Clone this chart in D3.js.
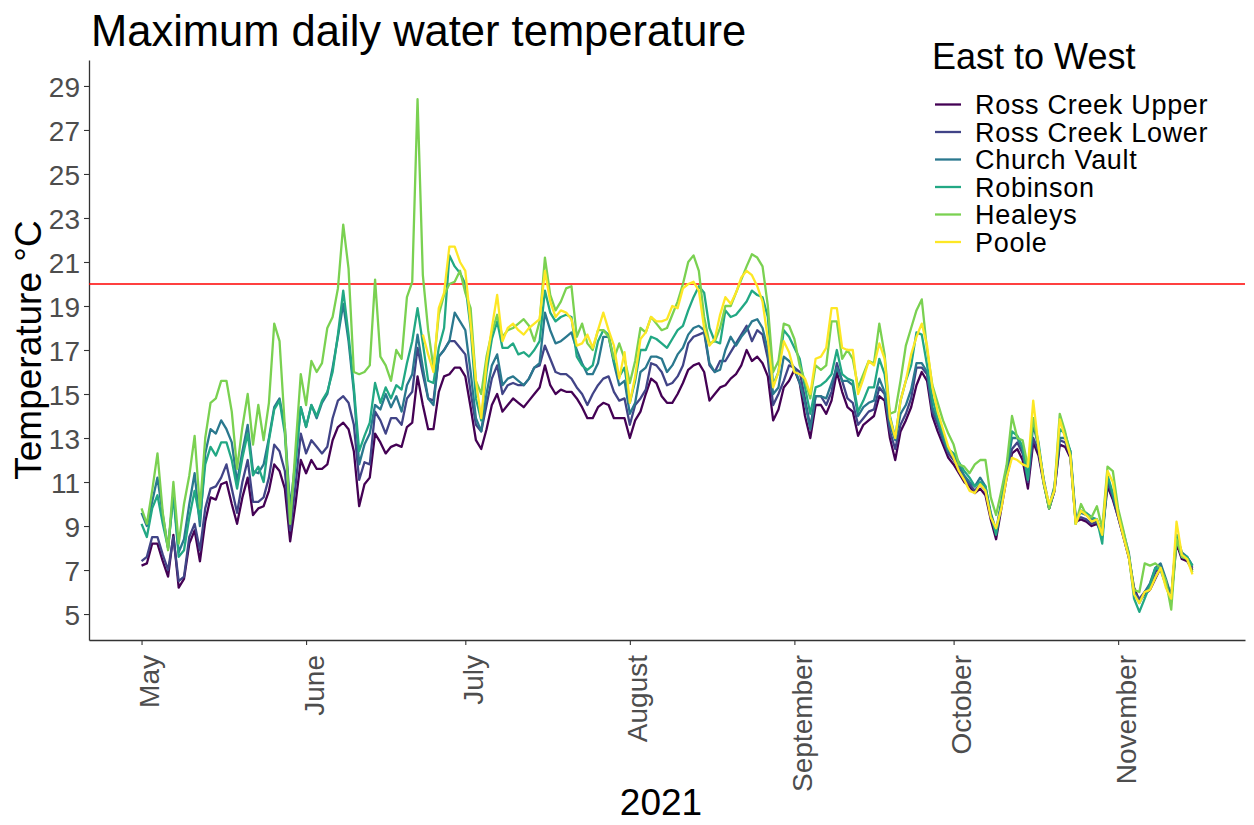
<!DOCTYPE html>
<html>
<head>
<meta charset="utf-8">
<script src="https://cdn.jsdelivr.net/npm/d3@7"></script>
<style>
  body { margin: 0; background: #fff; }
  svg { font-family: "Liberation Sans", Arial, sans-serif; }
</style>
</head>
<body>
<script>
// daily maximum water temperature (°C), one value per day from firstDay
var firstDay = "2021-05-01";
var pooleFirstDay = "2021-06-23";
var siteNames = ["Ross Creek Upper", "Ross Creek Lower", "Church Vault", "Robinson", "Healeys", "Poole"];

var rossCreekUpper = [7.2,7.3,8.2,8.2,7.4,6.7,8.6,6.2,6.6,8.2,
 8.8,7.4,9.2,10.3,10.2,10.9,11.0,10.0,9.1,10.3,
 11.2,9.5,9.8,9.9,10.6,11.8,11.5,10.7,8.3,10.0,
 12.0,11.4,12.0,11.6,11.6,11.8,12.9,13.5,13.7,13.4,
 12.4,9.9,10.9,11.2,13.2,12.8,12.3,12.6,12.7,12.6,
 13.5,13.7,15.8,14.5,13.4,13.4,15.1,15.8,15.9,16.2,
 16.2,15.8,14.4,12.9,12.5,13.4,14.5,15.0,14.2,14.5,
 14.8,14.6,14.4,14.7,15.0,15.3,16.3,15.4,15.0,15.2,
 15.1,15.1,14.8,14.4,13.9,13.9,14.4,14.6,14.5,13.9,
 13.9,13.9,13.0,13.8,14.2,15.0,15.7,15.5,14.9,14.6,
 14.6,15.0,15.5,16.1,16.3,16.4,16.0,14.7,15.0,15.3,
 15.4,15.7,15.9,16.3,17.0,16.5,16.7,16.4,15.8,13.8,
 14.3,15.3,15.6,16.1,15.5,14.0,13.0,14.5,14.5,14.1,
 14.7,16.0,15.1,14.4,14.2,13.1,13.6,13.8,14.0,14.9,
 14.7,13.0,12.0,13.3,13.8,14.4,15.4,16.0,15.6,14.0,
 13.3,12.7,12.1,11.8,11.4,11.0,10.8,10.5,10.7,10.4,
 9.3,8.4,9.8,11.2,12.3,12.5,12.0,10.7,12.8,12.2,
 10.9,9.8,10.6,12.7,12.6,12.1,9.2,9.3,9.2,9.0,
 9.1,8.6,10.8,10.2,9.4,8.5,7.6,6.2,5.6,5.9,
 6.1,6.6,7.1,6.4,5.7,8.2,7.5,7.4,7.0];

var rossCreekLower = [7.4,7.6,8.5,8.5,7.7,7.0,8.5,6.5,6.7,8.5,
 9.1,7.9,9.8,10.7,10.8,11.2,11.8,10.7,9.6,11.0,
 12.0,10.1,10.1,10.3,11.2,12.7,12.4,11.5,8.8,10.8,
 13.2,12.3,12.9,12.6,12.3,12.6,13.9,14.7,14.9,14.6,
 13.6,11.1,11.9,11.8,14.2,13.8,13.2,13.9,13.9,13.6,
 14.8,15.1,17.1,15.9,14.8,14.7,16.7,17.0,17.4,17.4,
 17.1,16.8,15.1,13.6,13.3,14.5,15.7,16.3,15.0,15.4,
 15.5,15.4,15.4,15.7,16.2,16.3,17.2,16.6,16.0,15.9,
 15.9,15.7,15.3,15.0,14.5,15.0,15.4,15.7,15.8,15.1,
 14.7,14.8,13.6,14.5,14.8,15.2,16.4,16.3,16.0,15.4,
 15.5,15.8,16.3,17.3,17.6,17.7,17.8,16.3,16.0,16.5,
 16.5,16.9,17.3,17.7,18.1,17.4,17.9,17.7,16.6,14.5,
 15.0,15.6,16.3,16.2,16.0,14.8,13.5,14.9,14.9,14.5,
 15.1,16.4,15.6,14.8,14.6,13.6,13.9,14.2,14.3,15.3,
 15.0,13.3,12.5,13.6,14.1,14.8,16.2,16.2,15.9,14.2,
 13.6,12.9,12.3,12.0,11.6,11.2,10.9,10.6,10.9,10.6,
 9.5,8.7,10.0,11.4,12.5,12.8,12.3,11.0,13.0,12.4,
 11.0,9.8,10.6,12.9,12.8,12.2,9.3,9.4,9.3,9.1,
 9.2,8.8,11.0,10.3,9.4,8.5,7.6,6.0,5.7,6.0,
 6.3,6.9,7.2,6.5,5.8,8.4,7.6,7.5,7.1];

var churchVault = [9.6,9.0,10.1,11.2,9.5,8.0,10.5,7.8,8.4,10.0,
 11.4,9.0,12.3,13.4,13.2,13.8,13.4,12.8,11.0,12.4,
 13.6,11.5,11.4,11.8,13.0,14.4,14.8,13.5,9.8,12.0,
 14.4,13.5,14.5,13.9,14.6,15.0,16.2,17.6,19.1,17.4,
 15.1,11.8,12.7,13.2,14.5,14.3,15.0,14.4,14.9,14.2,
 15.4,15.9,17.7,16.2,14.8,14.5,16.7,17.0,17.4,18.7,
 18.3,17.9,16.0,13.9,13.3,15.0,16.3,16.8,15.4,15.7,
 15.8,15.6,15.4,15.7,16.2,16.4,18.7,17.9,17.3,17.4,
 17.6,17.8,17.0,16.4,15.9,15.9,16.4,17.6,17.6,16.4,
 15.4,15.6,14.1,14.6,16.0,16.2,16.7,16.7,16.6,16.0,
 16.3,16.8,17.1,17.7,18.0,18.1,17.9,16.4,16.0,16.1,
 17.0,17.6,17.2,17.6,17.9,18.3,18.4,18.0,17.0,15.0,
 15.3,16.7,16.5,16.2,15.5,14.6,13.4,14.9,14.9,14.8,
 15.5,16.2,15.6,15.6,15.4,14.0,14.4,14.6,14.7,15.7,
 15.1,13.6,12.9,14.1,14.5,15.2,16.4,16.4,16.0,14.4,
 13.8,13.0,12.4,12.2,11.8,11.3,11.0,10.8,11.2,10.8,
 9.6,8.8,10.1,11.6,13.0,13.0,12.5,11.2,13.6,12.6,
 11.1,9.9,10.8,13.0,13.0,12.4,9.4,9.6,9.5,9.3,
 9.3,8.6,11.2,10.4,9.6,8.7,7.8,6.0,5.5,6.0,
 6.4,7.1,7.3,6.6,5.8,8.6,7.8,7.6,7.2];

var robinson = [9.1,8.5,9.8,10.4,9.1,8.0,10.4,7.6,7.9,9.4,
 10.6,9.3,11.8,12.6,12.2,12.8,12.8,12.0,10.7,12.1,
 13.2,11.3,11.7,11.0,12.9,14.3,14.7,13.2,9.4,11.8,
 14.4,13.5,14.5,14.0,14.7,15.1,16.0,17.7,19.7,17.7,
 15.3,12.4,13.1,13.7,15.5,14.6,15.3,14.8,15.4,15.2,
 16.4,17.4,18.9,17.3,15.6,15.5,17.1,18.0,21.3,20.8,
 20.5,20.0,18.0,14.8,13.8,16.0,17.5,18.3,17.1,17.1,
 17.3,16.8,16.9,16.7,17.0,17.4,19.7,18.7,18.3,18.5,
 18.6,18.5,16.7,16.3,16.1,16.3,17.4,17.9,17.7,16.5,
 15.8,16.2,14.6,15.6,17.0,17.0,17.6,17.5,17.3,17.1,
 17.5,17.9,18.1,18.8,19.4,19.9,19.6,18.0,17.4,17.3,
 18.8,18.5,18.6,18.9,19.2,19.7,19.5,19.4,18.5,15.4,
 16.0,17.9,17.6,17.1,16.6,15.3,14.1,15.3,15.4,15.6,
 15.9,17.0,15.9,15.7,15.6,14.2,14.7,15.3,15.3,16.6,
 15.9,14.0,13.0,14.7,15.6,16.3,17.8,17.7,16.3,14.8,
 13.9,13.2,12.5,12.3,11.9,11.5,11.2,10.8,11.0,10.8,
 9.5,8.6,10.0,11.7,13.3,13.1,12.6,11.1,13.9,12.8,
 11.0,9.8,10.7,13.4,13.2,12.4,9.1,9.7,9.6,9.4,
 9.3,8.2,11.3,10.5,9.6,8.6,7.7,5.7,5.1,5.7,
 6.3,7.1,7.0,6.3,5.6,8.6,7.7,7.6,7.2];

var healeys = [9.8,9.1,10.6,12.3,9.6,7.9,11.0,8.2,10.0,11.3,
 13.1,9.8,13.0,14.6,14.8,15.6,15.6,14.2,11.6,13.5,
 15.0,12.7,14.5,12.9,14.6,18.2,17.4,13.5,9.1,12.5,
 15.9,14.5,16.5,16.0,16.4,18.0,18.5,19.8,22.7,20.7,
 16.0,15.9,16.0,16.3,20.2,16.7,16.3,15.6,17.0,16.6,
 19.4,20.1,28.4,20.4,17.9,16.2,18.6,19.5,20.0,20.1,
 20.6,19.6,18.9,15.6,15.0,16.7,17.8,18.6,17.6,17.9,
 18.0,18.2,18.4,18.1,17.4,18.3,21.2,19.5,18.8,19.2,
 19.8,19.9,17.6,18.2,17.3,17.0,17.9,17.9,17.6,16.6,
 17.3,16.6,15.5,16.5,18.0,17.8,18.5,18.2,17.9,18.0,
 18.6,19.2,20.0,21.0,21.3,20.6,18.5,17.3,17.4,18.0,
 19.0,19.0,19.6,20.2,20.8,21.35,21.2,20.8,19.0,16.0,
 16.5,18.2,18.1,17.5,16.3,15.6,14.8,16.3,16.1,16.3,
 18.3,18.3,16.6,17.0,16.6,15.3,15.9,16.5,16.4,18.2,
 16.8,14.1,14.2,15.6,17.2,18.0,18.8,19.3,17.0,15.4,
 14.6,13.8,13.2,12.7,11.8,11.7,11.4,11.8,12.0,12.0,
 10.3,9.5,10.6,11.8,14.0,13.0,12.9,11.7,13.9,12.6,
 10.9,9.8,10.7,14.1,13.3,12.2,9.1,10.0,9.5,9.4,
 9.9,8.9,11.7,11.5,9.8,8.8,7.7,6.1,6.0,7.3,
 7.2,7.3,7.1,6.5,5.2,8.4,7.6,7.5,6.9];

// Poole logger starts later (pooleFirstDay)
var poole = [17.7,16.8,16.0,18.9,19.6,21.7,21.7,
 21.0,20.6,18.2,15.6,13.9,16.4,18.0,19.5,17.4,18.0,
 18.2,17.9,17.7,18.0,18.2,18.4,20.6,19.2,18.5,18.8,
 18.7,18.4,17.2,17.3,17.7,17.1,17.9,18.7,17.9,17.2,
 15.7,16.9,14.6,15.8,17.5,17.8,18.5,18.3,18.3,18.4,
 19.0,18.9,19.8,20.0,20.1,19.7,18.0,17.2,17.5,18.6,
 19.4,19.1,19.6,20.3,20.6,20.4,19.9,19.2,17.5,15.3,
 16.0,17.4,16.9,16.0,15.9,15.7,15.0,16.6,16.7,17.1,
 18.9,18.9,17.1,17.0,17.0,15.0,15.7,16.5,16.3,17.3,
 16.6,13.9,13.0,14.7,15.6,16.8,17.6,18.2,17.2,15.3,
 14.2,13.4,12.6,12.1,11.5,11.1,10.6,10.5,10.9,10.6,
 9.4,8.9,9.8,11.2,12.1,12.0,11.8,11.7,14.7,12.6,
 11.0,10.0,10.6,13.85,13.0,12.2,9.1,9.7,9.5,9.2,
 9.3,8.6,11.5,11.0,9.5,8.5,7.6,5.9,5.5,6.0,
 6.1,6.65,7.1,6.2,5.7,9.2,7.7,7.5,6.8];

var threshold = 20;
var yTicks = [5, 7, 9, 11, 13, 15, 17, 19, 21, 23, 25, 27, 29];
var monthTicks = ["2021-05-01", "2021-06-01", "2021-07-01", "2021-08-01", "2021-09-01", "2021-10-01", "2021-11-01"];

var colors = ["#440154", "#414487", "#2A788E", "#22A884", "#7AD151", "#FDE725"];

var w = 1254, h = 825;
var margin = {left: 89, right: 9, top: 60, bottom: 185};

var svg = d3.select('body')
  .append('svg')
  .attr('width', w)
  .attr('height', h);

var parse = d3.utcParse('%Y-%m-%d');

function toPoints(values, from) {
  var d0 = parse(from);
  return values.map((v, i) => ({date: d3.utcDay.offset(d0, i), value: v}));
}

var series = [
  toPoints(rossCreekUpper, firstDay),
  toPoints(rossCreekLower, firstDay),
  toPoints(churchVault, firstDay),
  toPoints(robinson, firstDay),
  toPoints(healeys, firstDay),
  toPoints(poole, pooleFirstDay)
];

// ggplot style 5% padding either side
var allDates = series.flatMap(s => s.map(p => p.date));
var tMin = d3.min(allDates), tMax = d3.max(allDates);
var pad = (tMax - tMin) * 0.05;

var xScale = d3.scaleUtc()
  .domain([new Date(+tMin - pad), new Date(+tMax + pad)])
  .range([margin.left, w - margin.right]);

var yScale = d3.scaleLinear()
  .domain([3.82, 30.18])
  .range([h - margin.bottom, margin.top]);

// title
svg.append('text')
  .attr('x', 91)
  .attr('y', 46)
  .style('font-size', '43.5px')
  .style('fill', '#000')
  .text('Maximum daily water temperature');

// axes
var yAxis = d3.axisLeft(yScale)
  .tickValues(yTicks)
  .tickSize(5)
  .tickSizeOuter(0)
  .tickPadding(4);

var gy = svg.append('g')
  .attr('transform', `translate(${margin.left},0)`)
  .call(yAxis);
gy.selectAll('text')
  .style('font-size', '28px')
  .style('fill', '#4D4D4D')
  .attr('dy', '0.36em');

var xAxis = d3.axisBottom(xScale)
  .tickValues(monthTicks.map(parse))
  .tickFormat(d3.utcFormat('%B'))
  .tickSize(5)
  .tickSizeOuter(0);

var gx = svg.append('g')
  .attr('transform', `translate(0,${h - margin.bottom})`)
  .call(xAxis);
gx.selectAll('text')
  .attr('transform', 'rotate(-90)')
  .attr('text-anchor', 'end')
  .attr('x', -15)
  .attr('y', 17)
  .attr('dy', 0)
  .style('font-size', '28px')
  .style('fill', '#4D4D4D');

svg.selectAll('.domain').attr('stroke', '#333').attr('stroke-width', 1.3);
svg.selectAll('.tick line').attr('stroke', '#333').attr('stroke-width', 1.1);

// axis titles
svg.append('text')
  .attr('text-anchor', 'middle')
  .attr('transform', `translate(41,${(margin.top + h - margin.bottom) / 2})rotate(-90)`)
  .style('font-size', '37px')
  .text('Temperature °C');

svg.append('text')
  .attr('text-anchor', 'middle')
  .attr('x', (margin.left + w - margin.right) / 2 - 6)
  .attr('y', 815)
  .style('font-size', '37px')
  .text('2021');

// 20 degree reference line
svg.append('line')
  .attr('x1', margin.left)
  .attr('x2', w - margin.right)
  .attr('y1', yScale(threshold))
  .attr('y2', yScale(threshold))
  .attr('stroke', 'red')
  .attr('stroke-width', 1.3);

var line = d3.line()
  .x(d => xScale(d.date))
  .y(d => yScale(d.value));

svg.selectAll('path.site')
  .data(series)
  .enter()
  .append('path')
    .attr('class', 'site')
    .attr('d', line)
    .attr('fill', 'none')
    .attr('stroke', (d, i) => colors[i])
    .attr('stroke-width', 2.3)
    .attr('stroke-linejoin', 'round');

// legend
var legend = svg.append('g')
  .attr('transform', 'translate(932,0)');

legend.append('text')
  .attr('x', 0)
  .attr('y', 69)
  .style('font-size', '36px')
  .text('East to West');

var rows = legend.selectAll('g.row')
  .data(siteNames)
  .enter()
  .append('g')
    .attr('class', 'row')
    .attr('transform', (d, i) => `translate(0,${104.5 + i * 27.5})`);

rows.append('line')
  .attr('x1', 3)
  .attr('x2', 29)
  .attr('stroke', (d, i) => colors[i])
  .attr('stroke-width', 2.3);

rows.append('text')
  .attr('x', 43)
  .attr('dy', '0.36em')
  .style('font-size', '27px')
  .style('letter-spacing', '0.7px')
  .text(d => d);
</script>
</body>
</html>
